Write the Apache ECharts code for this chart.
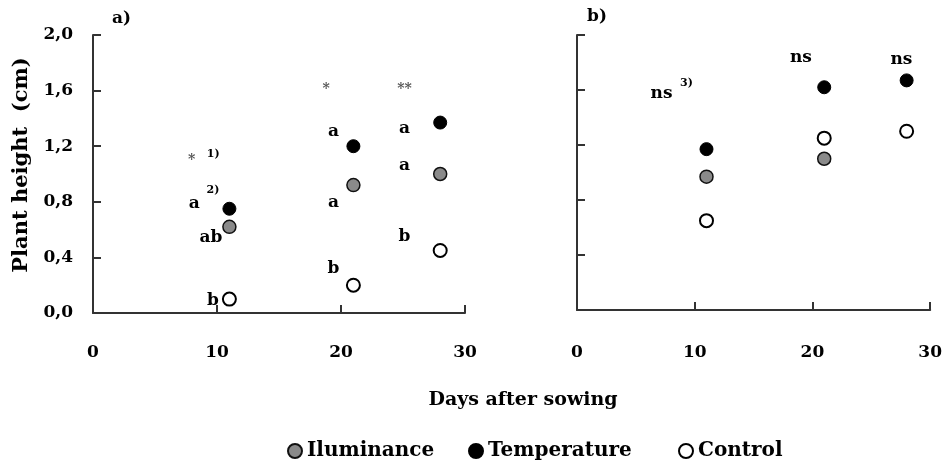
<!DOCTYPE html>
<html><head><meta charset="utf-8">
<script src="https://cdn.jsdelivr.net/npm/echarts@6/dist/echarts.min.js"></script>
<style>html,body{margin:0;padding:0;background:#fff}#c{width:945px;height:466px}</style>
</head><body><div id="c"></div>
<script>
// ---- data ----
const days = [11, 21, 28];
const xTicks = [0, 10, 20, 30];
const yTickLabels = ['0,0', '0,4', '0,8', '1,2', '1,6', '2,0'];
// panel a)
const illumA = [0.62, 0.92, 1.00];
const tempA  = [0.75, 1.20, 1.37];
const ctrlA  = [0.10, 0.20, 0.45];
// panel b)
const illumB = [0.97, 1.10, null];
const tempB  = [1.17, 1.62, 1.67];
const ctrlB  = [0.65, 1.25, 1.30];
// annotations (day, height, text)
const notesA = [
  [7.95, 1.10, '*'], [9.7, 1.14, '1)'],
  [8.17, 0.79, 'a'], [9.68, 0.885, '2)'],
  [9.52, 0.546, 'ab'], [9.68, 0.09, 'b'],
  [18.81, 1.608, '*'], [19.4, 1.304, 'a'], [19.4, 0.794, 'a'], [19.4, 0.316, 'b'],
  [25.12, 1.608, '**'], [25.12, 1.328, 'a'], [25.12, 1.06, 'a'], [25.12, 0.55, 'b']
];
const notesB = [
  [7.18, 1.571, 'ns'], [9.3, 1.653, '3)'],
  [19.02, 1.838, 'ns'], [27.56, 1.823, 'ns']
];
const seriesNames = ['Iluminance', 'Temperature', 'Control'];
const yTitle = 'Plant height  (cm)';
const xTitle = 'Days after sowing';

// ---- chart ----
const FONT = '"DejaVu Serif", "Liberation Serif", serif';
const pair = arr => days.map((d, i) => arr[i] == null ? null : [d, arr[i]]).filter(Boolean);
const styles = {
  Iluminance: { color: '#8a8a8a', borderColor: '#111', borderWidth: 1.5, opacity: 1 },
  Temperature: { color: '#000', borderColor: '#000', borderWidth: 1, opacity: 1 },
  Control: { color: '#fff', borderColor: '#000', borderWidth: 2, opacity: 1 }
};
function pts(name, arr, idx) {
  return { name, type: 'scatter', xAxisIndex: idx, yAxisIndex: idx, data: pair(arr),
    symbol: 'circle', symbolSize: 13, itemStyle: styles[name], z: name === 'Temperature' ? 2 : 3 };
}
function notes(arr, idx) {
  return { type: 'scatter', xAxisIndex: idx, yAxisIndex: idx, silent: true, symbolSize: 1,
    itemStyle: { color: 'rgba(0,0,0,0)', opacity: 1 }, z: 5,
    data: arr.map(n => ({ value: [n[0], n[1]], label: (() => {
      const t = n[2];
      if (/\)$/.test(t)) return { fontSize: 11 };
      if (/^\*+$/.test(t)) return { fontSize: 14, color: '#555' };
      return {};
    })() })),
    label: { show: true, position: 'inside', formatter: p => arr[p.dataIndex][2],
      fontFamily: FONT, fontWeight: 'bold', fontSize: 17, color: '#000' } };
}
const axisLine = { show: true, lineStyle: { color: '#333', width: 2 } };
function xAx(idx, margin) {
  return { type: 'value', gridIndex: idx, min: 0, max: 30, interval: 10,
    axisLine, axisTick: { show: true, inside: true, length: 8, lineStyle: { color: '#333', width: 2 } },
    splitLine: { show: false },
    axisLabel: { margin, fontFamily: FONT, fontWeight: 'bold', fontSize: 17, color: '#000',
      formatter: v => xTicks.includes(v) ? String(v) : '' } };
}
function yAx(idx, labels) {
  return { type: 'value', gridIndex: idx, min: 0, max: 2, interval: 0.4,
    axisLine, axisTick: { show: true, inside: true, length: 8, lineStyle: { color: '#333', width: 2 } },
    splitLine: { show: false },
    axisLabel: { show: labels, margin: 20, fontFamily: FONT, fontWeight: 'bold', fontSize: 17, color: '#000',
      formatter: v => yTickLabels[Math.round(v / 0.4)] } };
}
const legendBase = { orient: 'horizontal', icon: 'circle', itemWidth: 14, itemHeight: 14, itemGap: 0,
  top: 436, textStyle: { fontFamily: FONT, fontWeight: 'bold', fontSize: 20, color: '#000' } };

const chart = echarts.init(document.getElementById('c'), null, { renderer: 'canvas' });
chart.setOption({
  animation: false,
  backgroundColor: '#fff',
  grid: [
    { left: 93, top: 35, width: 372, height: 278 },
    { left: 577, top: 35, width: 355, height: 275 }
  ],
  xAxis: [xAx(0, 31), xAx(1, 34)],
  yAxis: [yAx(0, true), yAx(1, false)],
  legend: [
    Object.assign({}, legendBase, { left: 282, data: [seriesNames[0]] }),
    Object.assign({}, legendBase, { left: 463, data: [seriesNames[1]] }),
    Object.assign({}, legendBase, { left: 673, data: [seriesNames[2]] })
  ],
  graphic: [
    { type: 'text', x: 112, y: 10, style: { text: 'a)', font: 'bold 17px ' + FONT, fill: '#000' } },
    { type: 'text', x: 587, y: 8, style: { text: 'b)', font: 'bold 17px ' + FONT, fill: '#000' } },
    { type: 'text', x: 523, y: 400, style: { text: xTitle, font: 'bold 19px ' + FONT, fill: '#000',
      textAlign: 'center', textVerticalAlign: 'middle' } },
    { type: 'text', x: 22, y: 165, rotation: Math.PI / 2, style: { text: yTitle, font: 'bold 21px ' + FONT, fill: '#000',
      textAlign: 'center', textVerticalAlign: 'middle' } }
  ],
  series: [
    pts('Temperature', tempA, 0), pts('Iluminance', illumA, 0), pts('Control', ctrlA, 0),
    pts('Temperature', tempB, 1), pts('Iluminance', illumB, 1), pts('Control', ctrlB, 1),
    notes(notesA, 0), notes(notesB, 1)
  ]
});
</script></body></html>
